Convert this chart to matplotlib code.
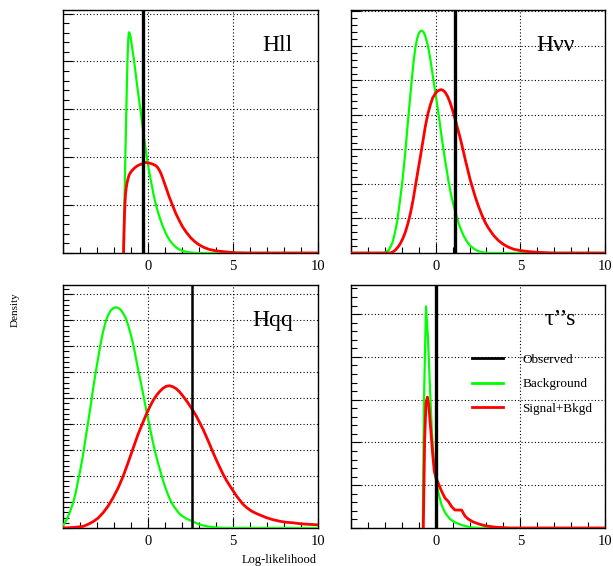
import matplotlib
matplotlib.use('Agg')
import matplotlib.pyplot as plt
from matplotlib.ticker import MultipleLocator, FixedLocator, NullFormatter

plt.rcParams['font.family'] = ['Liberation Serif', 'DejaVu Serif']

# Hll channel
hll_bkg_x = [-1.44, -1.40, -1.36, -1.32, -1.28, -1.24, -1.20, -1.16, -1.12, -1.07,
             -1.02, -0.93, -0.83, -0.73, -0.63, -0.53, -0.43, -0.33, -0.24, -0.14,
             -0.04, 0.06, 0.16, 0.26, 0.35, 0.45, 0.55, 0.70, 0.85, 1.00,
             1.14, 1.29, 1.44, 1.63, 1.83, 2.07, 2.32, 2.65, 3.01, 10.0]
hll_bkg_y = [0.0, 0.150, 0.303, 0.445, 0.583, 0.710, 0.821, 0.895, 0.922, 0.917,
             0.900, 0.857, 0.807, 0.752, 0.695, 0.642, 0.590, 0.537, 0.485, 0.435,
             0.387, 0.344, 0.306, 0.269, 0.236, 0.206, 0.180, 0.145, 0.115, 0.090,
             0.069, 0.052, 0.038, 0.025, 0.015, 0.008, 0.004, 0.001, 0.0, 0.0]
hll_sig_x = [-1.44, -1.41, -1.38, -1.35, -1.32, -1.28, -1.24, -1.18, -1.12, -1.03,
             -0.93, -0.78, -0.63, -0.48, -0.33, -0.14, 0.06, 0.20, 0.35, 0.45,
             0.55, 0.65, 0.75, 0.85, 0.94, 1.09, 1.24, 1.44, 1.63, 1.83,
             2.03, 2.27, 2.52, 2.76, 3.01, 3.30, 3.60, 4.00, 4.39, 4.80,
             5.18, 6.00, 10.0]
hll_sig_y = [0.0, 0.090, 0.164, 0.212, 0.248, 0.272, 0.290, 0.309, 0.324, 0.336,
             0.345, 0.356, 0.364, 0.369, 0.373, 0.378, 0.376, 0.373, 0.369, 0.365,
             0.359, 0.348, 0.334, 0.316, 0.297, 0.267, 0.236, 0.200, 0.166, 0.137,
             0.110, 0.085, 0.063, 0.047, 0.034, 0.023, 0.015, 0.009, 0.006, 0.003,
             0.001, 0.0, 0.0]
hll_obs = -0.3

# Hvv channel
hvv_bkg_x = [-5.0, -3.06, -2.90, -2.76, -2.57, -2.47, -2.37, -2.27, -2.18, -2.08,
             -1.98, -1.88, -1.78, -1.69, -1.59, -1.49, -1.39, -1.30, -1.20, -1.10,
             -1.00, -0.90, -0.80, -0.70, -0.61, -0.51, -0.41, -0.31, -0.22, -0.12,
             -0.02, 0.08, 0.18, 0.28, 0.37, 0.47, 0.57, 0.67, 0.76, 0.86,
             0.96, 1.06, 1.16, 1.25, 1.35, 1.50, 1.65, 1.85, 2.04, 2.30,
             2.53, 2.80, 3.12, 10.0]
hvv_bkg_y = [0.0, 0.0, 0.004, 0.009, 0.028, 0.045, 0.067, 0.093, 0.125, 0.162,
             0.202, 0.249, 0.299, 0.352, 0.406, 0.460, 0.512, 0.557, 0.594, 0.620,
             0.636, 0.643, 0.644, 0.639, 0.628, 0.611, 0.588, 0.560, 0.530, 0.497,
             0.465, 0.432, 0.398, 0.363, 0.330, 0.297, 0.265, 0.235, 0.207, 0.181,
             0.158, 0.138, 0.120, 0.103, 0.087, 0.067, 0.050, 0.033, 0.021, 0.011,
             0.005, 0.002, 0.0, 0.0]
hvv_sig_x = [-5.0, -2.67, -2.50, -2.37, -2.20, -2.08, -1.93, -1.78, -1.63, -1.49,
             -1.34, -1.20, -1.05, -0.90, -0.75, -0.61, -0.46, -0.31, -0.17, -0.02,
             0.08, 0.18, 0.28, 0.37, 0.47, 0.57, 0.71, 0.86, 1.01, 1.16,
             1.30, 1.45, 1.60, 1.75, 1.90, 2.04, 2.19, 2.33, 2.53, 2.73,
             2.92, 3.12, 3.42, 3.71, 4.00, 4.30, 4.60, 5.00, 5.50, 6.00,
             7.00, 10.0]
hvv_sig_y = [0.0, 0.0, 0.004, 0.009, 0.019, 0.028, 0.043, 0.062, 0.087, 0.115,
             0.152, 0.193, 0.237, 0.280, 0.325, 0.367, 0.403, 0.430, 0.450, 0.462,
             0.468, 0.471, 0.473, 0.473, 0.470, 0.465, 0.453, 0.435, 0.412, 0.386,
             0.360, 0.333, 0.302, 0.270, 0.240, 0.212, 0.187, 0.164, 0.135, 0.110,
             0.089, 0.072, 0.051, 0.036, 0.025, 0.017, 0.011, 0.007, 0.004, 0.002,
             0.0, 0.0]
hvv_obs = 1.15

# Hqq channel
hqq_bkg_x = [-5.0, -4.85, -4.71, -4.56, -4.41, -4.26, -4.12, -3.97, -3.82, -3.68,
             -3.53, -3.38, -3.24, -3.09, -2.94, -2.80, -2.65, -2.50, -2.35, -2.20,
             -2.06, -1.91, -1.76, -1.62, -1.47, -1.32, -1.18, -1.03, -0.88, -0.74,
             -0.59, -0.44, -0.29, -0.15, 0.0, 0.15, 0.29, 0.44, 0.59, 0.74,
             0.88, 1.03, 1.18, 1.32, 1.47, 1.67, 1.86, 2.06, 2.25, 2.60,
             3.00, 3.50, 4.00, 4.50, 10.0]
hqq_bkg_y = [0.005, 0.012, 0.022, 0.034, 0.048, 0.067, 0.090, 0.114, 0.141, 0.171,
             0.202, 0.234, 0.266, 0.297, 0.326, 0.353, 0.377, 0.396, 0.410, 0.419,
             0.423, 0.425, 0.424, 0.421, 0.414, 0.405, 0.392, 0.375, 0.355, 0.332,
             0.307, 0.283, 0.259, 0.235, 0.211, 0.187, 0.165, 0.144, 0.125, 0.108,
             0.092, 0.077, 0.064, 0.053, 0.044, 0.035, 0.027, 0.022, 0.018, 0.013,
             0.007, 0.003, 0.001, 0.0, 0.0]
hqq_sig_x = [-5.0, -4.41, -4.10, -3.82, -3.53, -3.24, -2.94, -2.65, -2.35, -2.06,
             -1.76, -1.47, -1.18, -0.88, -0.59, -0.29, -0.10, 0.10, 0.29, 0.49,
             0.69, 0.88, 1.08, 1.27, 1.47, 1.67, 1.86, 2.06, 2.33, 2.59,
             2.82, 3.04, 3.24, 3.43, 3.63, 3.82, 4.02, 4.22, 4.41, 4.61,
             4.80, 5.00, 5.20, 5.39, 5.58, 5.78, 6.07, 6.37, 6.66, 6.96,
             7.35, 7.75, 8.14, 8.53, 9.00, 9.50, 10.0]
hqq_sig_y = [0.0, 0.001, 0.002, 0.003, 0.007, 0.012, 0.019, 0.029, 0.042, 0.058,
             0.077, 0.099, 0.125, 0.153, 0.180, 0.204, 0.219, 0.233, 0.245, 0.255,
             0.263, 0.269, 0.273, 0.274, 0.272, 0.268, 0.262, 0.254, 0.242, 0.229,
             0.217, 0.203, 0.190, 0.176, 0.161, 0.146, 0.131, 0.117, 0.104, 0.092,
             0.082, 0.072, 0.062, 0.054, 0.046, 0.040, 0.033, 0.028, 0.024, 0.020,
             0.016, 0.013, 0.011, 0.010, 0.008, 0.007, 0.006]
hqq_obs = 2.59

# tau channel
tau_bkg_x = [-0.76, -0.69, -0.57, -0.45, -0.33, -0.22, -0.10, 0.0, 0.16, 0.35,
             0.55, 0.84, 1.14, 1.53, 2.02, 2.6, 10.0]
tau_bkg_y = [0.0, 1.50, 2.59, 2.20, 1.61, 1.11, 0.76, 0.58, 0.41, 0.27,
             0.18, 0.105, 0.066, 0.035, 0.008, 0.0, 0.0]
tau_sig_x = [-0.73, -0.65, -0.57, -0.49, -0.41, -0.29, -0.18, -0.08, 0.0, 0.16,
             0.35, 0.55, 0.75, 0.94, 1.14, 1.33, 1.53, 1.73, 1.92, 2.22, 2.61,
             3.0, 3.59, 4.37, 10.0]
tau_sig_y = [0.0, 1.03, 1.46, 1.53, 1.44, 1.15, 0.87, 0.66, 0.60, 0.52,
             0.43, 0.35, 0.31, 0.25, 0.21, 0.21, 0.21, 0.14, 0.105, 0.07, 0.043,
             0.023, 0.008, 0.0, 0.0]
tau_obs = 0.0

channels = ['Hll', 'H\u03bd\u03bd', 'Hqq', '\u03c4\u2019\u2019s']
bkg_curves = [(hll_bkg_x, hll_bkg_y), (hvv_bkg_x, hvv_bkg_y),
              (hqq_bkg_x, hqq_bkg_y), (tau_bkg_x, tau_bkg_y)]
sig_curves = [(hll_sig_x, hll_sig_y), (hvv_sig_x, hvv_sig_y),
              (hqq_sig_x, hqq_sig_y), (tau_sig_x, tau_sig_y)]
observed = [hll_obs, hvv_obs, hqq_obs, tau_obs]
y_step = [0.2, 0.1, 0.05, 0.5]
y_top = [1.015, 0.704, 0.468, 2.84]

W, H = 613, 566
fig = plt.figure(figsize=(W / 100, H / 100), dpi=100)

# pad boxes in pixels: left, top, right, bottom
boxes = [(63, 10, 318, 253), (351, 10, 605, 253),
         (63, 285, 318, 528), (351, 285, 605, 528)]
label_pos = [(0.780, 0.832), (0.731, 0.831), (0.741, 0.831), (0.760, 0.835)]
obs_lw = [2.4, 2.4, 1.8, 2.4]

for i in range(4):
    l, t, r, b = boxes[i]
    ax = fig.add_axes([l / W, 1 - b / H, (r - l) / W, (b - t) / H])
    ax.set_xlim(-5, 10)
    ax.set_ylim(0, y_top[i])

    ax.plot(*bkg_curves[i], color='#00ff00', lw=1.6, label='Background', zorder=3)
    ax.plot(*sig_curves[i], color='#ff0000', lw=2.0, label='Signal+Bkgd', zorder=3)
    obs = ax.axvline(observed[i], color='black', lw=obs_lw[i], zorder=4)

    ax.xaxis.set_major_locator(FixedLocator([-5, 0, 5, 10]))
    ax.xaxis.set_minor_locator(MultipleLocator(1))
    ax.set_xticklabels(['', '0', '5', '10'])
    ax.yaxis.set_major_locator(MultipleLocator(y_step[i]))
    ax.yaxis.set_minor_locator(MultipleLocator(y_step[i] / 5))
    ax.yaxis.set_major_formatter(NullFormatter())
    ax.tick_params(which='both', direction='in', top=False, right=False,
                   width=0.8, labelsize=10.5, pad=5)
    ax.tick_params(which='major', length=7)
    ax.tick_params(which='minor', length=4)
    ax.grid(True, which='major', color='black', lw=0.8, ls=(0, (1, 2)))
    for s in ax.spines.values():
        s.set_linewidth(1.0)

    ax.text(*label_pos[i], channels[i], transform=ax.transAxes,
            fontsize=17, va='baseline', ha='left')

    if i == 3:
        handles = [obs] + ax.get_lines()[:2]
        ax.legend(handles, ['Observed', 'Background', 'Signal+Bkgd'],
                  loc='upper left', bbox_to_anchor=(0.475, 0.719),
                  frameon=False, fontsize=9.5, handlelength=2.4,
                  handletextpad=1.45, labelspacing=0.95,
                  borderpad=0, borderaxespad=0)
        for line in ax.get_legend().get_lines():
            line.set_linewidth(2.0)

fig.text(15 / W, 1 - 310 / H, 'Density', rotation=90, fontsize=8,
         ha='center', va='center')
fig.text(317 / W, 1 - 560 / H, 'Log-likelihood', fontsize=9,
         ha='right', va='center')

fig.savefig('out.png', dpi=100)
